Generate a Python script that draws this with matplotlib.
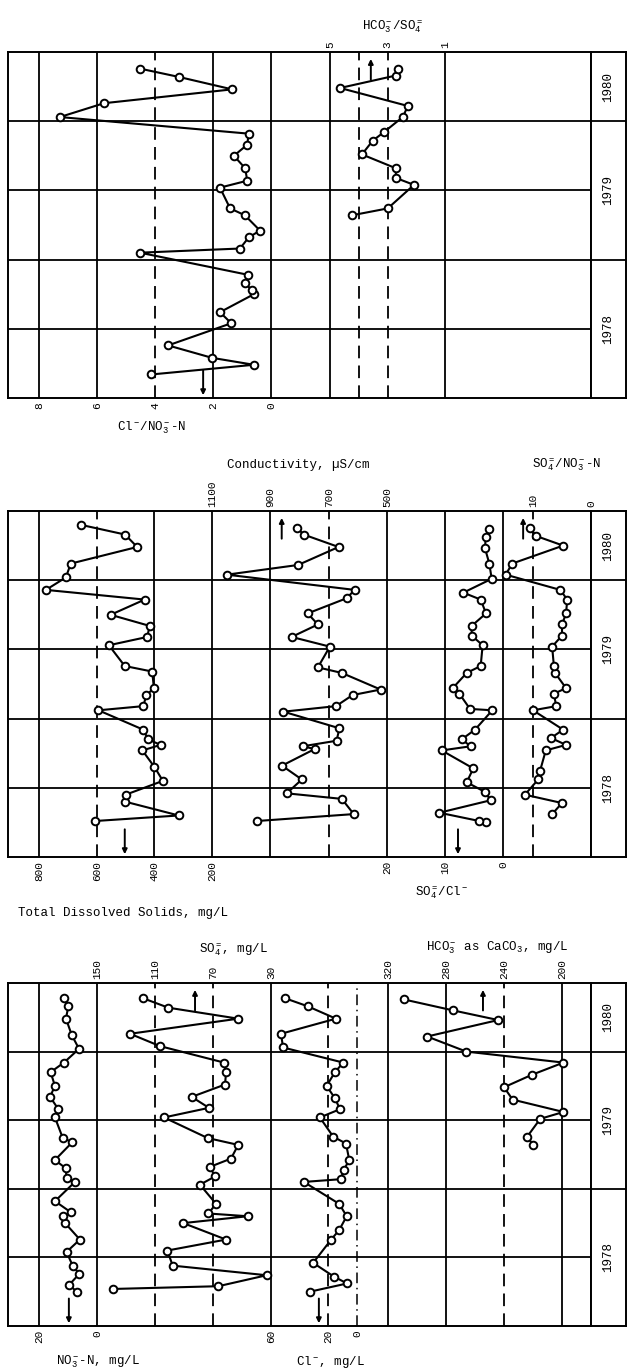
import matplotlib
matplotlib.use('Agg')
import matplotlib.pyplot as plt

plt.rcParams['font.family'] = ['Liberation Mono', 'DejaVu Sans Mono']
plt.rcParams['mathtext.fontset'] = 'custom'
plt.rcParams['mathtext.rm'] = 'Liberation Mono'
plt.rcParams['mathtext.it'] = 'Liberation Mono'
plt.rcParams['mathtext.bf'] = 'Liberation Mono:bold'

# ---------------- data (decimal year, value) ----------------
# panel 1
cl_no3_t = [1978.17, 1978.24, 1978.29, 1978.38, 1978.54, 1978.62, 1978.75, 1978.78, 1978.83,
            1978.89, 1979.05, 1979.08, 1979.16, 1979.21, 1979.32, 1979.37, 1979.52, 1979.57,
            1979.66, 1979.75, 1979.83, 1979.91, 1980.03, 1980.13, 1980.23, 1980.32, 1980.38]
cl_no3 = [4.13, 0.59, 2.03, 3.55, 1.37, 1.76, 0.59, 0.66, 0.90, 0.79, 4.52, 1.07, 0.77, 0.38,
          0.90, 1.41, 1.76, 0.82, 0.89, 1.28, 0.82, 0.77, 7.28, 5.76, 1.34, 3.18, 4.52]

hco3_so4_t = [1979.32, 1979.37, 1979.54, 1979.59, 1979.66, 1979.76, 1979.86, 1979.92,
              1980.03, 1980.11, 1980.24, 1980.33, 1980.38]
hco3_so4 = [4.24, 2.99, 2.08, 2.71, 2.71, 3.89, 3.51, 3.13, 2.47, 2.29, 4.65, 2.71, 2.64]

# panel 2
tds_t = [1978.26, 1978.30, 1978.40, 1978.45, 1978.55, 1978.65, 1978.77, 1978.81, 1978.85,
         1978.92, 1979.06, 1979.09, 1979.17, 1979.22, 1979.34, 1979.38, 1979.53, 1979.59,
         1979.67, 1979.75, 1979.86, 1979.93, 1980.02, 1980.12, 1980.24, 1980.33, 1980.40]
tds = [606, 316, 502, 500, 371, 400, 442, 379, 422, 439, 594, 439, 428, 402, 408, 503, 558,
       425, 417, 552, 434, 776, 707, 690, 460, 502, 655]

cond_t = [1978.26, 1978.31, 1978.42, 1978.46, 1978.56, 1978.66, 1978.78, 1978.80, 1978.84,
          1978.93, 1979.05, 1979.09, 1979.17, 1979.21, 1979.33, 1979.37, 1979.52, 1979.59,
          1979.68, 1979.76, 1979.87, 1979.93, 1980.04, 1980.11, 1980.24, 1980.33, 1980.38]
cond = [946, 614, 655, 844, 792, 860, 748, 789, 673, 663, 855, 675, 618, 522, 655, 737, 696,
        827, 737, 772, 638, 611, 1049, 805, 666, 786, 809]

so4_cl_t = [1978.25, 1978.26, 1978.32, 1978.41, 1978.47, 1978.54, 1978.64, 1978.77, 1978.80,
            1978.85, 1978.92, 1979.06, 1979.07, 1979.18, 1979.22, 1979.33, 1979.38, 1979.53,
            1979.60, 1979.67, 1979.76, 1979.86, 1979.91, 1980.01, 1980.12, 1980.23, 1980.31,
            1980.37]
so4_cl = [2.93, 4.08, 10.98, 2.12, 3.10, 6.26, 5.12, 10.57, 5.57, 7.12, 4.83, 1.84, 5.69,
          7.53, 8.67, 6.26, 3.85, 3.51, 5.40, 5.40, 2.93, 3.85, 6.84, 1.95, 2.36, 3.10, 2.99,
          2.36]

so4_no3_t = [1978.31, 1978.39, 1978.45, 1978.56, 1978.62, 1978.77, 1978.81, 1978.86, 1978.92,
             1979.06, 1979.09, 1979.18, 1979.22, 1979.33, 1979.38, 1979.52, 1979.60, 1979.68,
             1979.76, 1979.86, 1979.93, 1980.04, 1980.12, 1980.25, 1980.32, 1980.38]
so4_no3 = [6.7, 5.0, 11.4, 9.1, 8.8, 7.8, 4.3, 6.9, 4.8, 10.0, 6.0, 6.4, 4.3, 6.2, 6.4, 6.7,
           5.0, 5.0, 4.3, 4.1, 5.3, 14.7, 13.6, 4.8, 9.5, 10.5]

# panel 3
no3_t = [1978.25, 1978.30, 1978.38, 1978.44, 1978.54, 1978.63, 1978.75, 1978.80, 1978.83,
         1978.91, 1979.05, 1979.08, 1979.15, 1979.21, 1979.34, 1979.37, 1979.52, 1979.58,
         1979.67, 1979.75, 1979.85, 1979.92, 1980.02, 1980.12, 1980.24, 1980.33, 1980.39]
no3 = [7.0, 9.6, 6.1, 8.4, 10.5, 5.9, 11.0, 11.6, 9.1, 14.5, 7.6, 10.5, 10.8, 14.5, 8.5, 11.8,
       14.5, 13.3, 16.2, 14.5, 16.0, 11.4, 6.2, 8.7, 10.7, 9.9, 11.4]

so4_t = [1978.27, 1978.29, 1978.37, 1978.44, 1978.55, 1978.63, 1978.75, 1978.80, 1978.82,
         1978.89, 1979.03, 1979.09, 1979.16, 1979.22, 1979.32, 1979.37, 1979.52, 1979.59,
         1979.67, 1979.76, 1979.85, 1979.92, 1980.04, 1980.13, 1980.24, 1980.32, 1980.39]
so4 = [138.8, 66.3, 33.0, 97.8, 101.5, 61.0, 90.5, 46.1, 73.2, 67.9, 79.0, 68.6, 72.1, 57.6,
       52.6, 73.7, 103.8, 72.8, 84.7, 61.7, 61.0, 62.4, 106.6, 127.2, 52.6, 100.8, 118.5]

cl_t = [1978.25, 1978.31, 1978.36, 1978.46, 1978.63, 1978.70, 1978.80, 1978.89, 1979.05,
        1979.07, 1979.14, 1979.21, 1979.33, 1979.38, 1979.52, 1979.58, 1979.66, 1979.75,
        1979.85, 1979.92, 1980.03, 1980.13, 1980.24, 1980.33, 1980.39]
cl = [32.9, 6.9, 16.1, 30.6, 18.0, 12.4, 7.2, 12.4, 37.1, 11.4, 9.1, 5.4, 7.7, 16.6, 25.9,
      11.9, 15.4, 21.2, 15.4, 9.6, 51.6, 53.0, 14.7, 34.3, 50.5]

hco3_t = [1979.32, 1979.38, 1979.51, 1979.56, 1979.65, 1979.74, 1979.83, 1979.92, 1980.00,
          1980.11, 1980.23, 1980.30, 1980.38]
hco3 = [220, 224, 215, 199, 234, 240, 221, 199, 266, 293, 244, 275, 309]

years = [1978, 1979, 1980]

# ---------------- layout (pixels) ----------------
W, H = 627, 1370
L, R, YR = 8, 591, 626
T0, T1 = 1978.0, 1980.5
DASH = (0, (7, 4))
DASHDOT = (0, (7, 3, 1, 3))

fig = plt.figure(figsize=(W / 100, H / 100), dpi=100)


def px_axes(left, top, right, bottom):
    return fig.add_axes([left / W, 1 - bottom / H, (right - left) / W, (bottom - top) / H])


def panel(top, bottom):
    ax = px_axes(L, top, R, bottom)
    ax.set_xlim(0, 1)
    ax.set_ylim(T0, T1)
    ax.set_xticks([])
    ax.set_yticks([])
    for s in ax.spines.values():
        s.set_linewidth(1.4)
    for t in [1978.5, 1979.0, 1979.5, 1980.0]:
        ax.axhline(t, color='k', lw=1.3)

    yc = px_axes(R, top, YR, bottom)
    yc.set_xlim(0, 1)
    yc.set_ylim(T0, T1)
    yc.set_xticks([])
    yc.set_yticks([])
    for s in yc.spines.values():
        s.set_linewidth(1.4)
    for y in years[1:]:
        yc.axhline(y, color='k', lw=1.3)
    for y in years:
        mid = (y + min(y + 1, T1)) / 2
        yc.text(0.5, mid, str(y), rotation=90, ha='center', va='center', fontsize=9)
    return ax


def scale(ax, v0, p0, v1, p1, ticks, side, solid=(), dashed=(), dashdot=()):
    # value v0 sits at pixel p0, v1 at pixel p1
    k = (v1 - v0) / (p1 - p0)
    tw = ax.twiny()
    tw.set_xlim(v0 + (L - p0) * k, v0 + (R - p0) * k)
    for s in tw.spines.values():
        s.set_visible(False)
    tw.set_xticks(ticks)
    tw.set_xticklabels([str(t) for t in ticks])
    tw.xaxis.set_ticks_position(side)
    tw.tick_params(axis='x', length=0, pad=3, labelsize=8, labelrotation=90)
    for v in solid:
        tw.axvline(v, color='k', lw=1.3)
    for v in dashed:
        tw.axvline(v, color='k', lw=1.3, ls=DASH)
    for v in dashdot:
        tw.axvline(v, color='k', lw=1.1, ls=DASHDOT)
    return tw


def series(tw, t, v, arrow, up):
    tw.plot(v, t, color='k', lw=1.5, marker='o', ms=5.5, mfc='white', mec='k', mew=1.4,
            zorder=5)
    tail, head = (1980.30, 1980.45) if up else (1978.20, 1978.02)
    tw.annotate('', xy=(arrow, head), xytext=(arrow, tail),
                arrowprops=dict(arrowstyle='-|>', color='k', lw=1.4, mutation_scale=7,
                                shrinkA=0, shrinkB=0))


def label(x, y, s, size=9):
    fig.text(x / W, 1 - y / H, s, ha='center', va='center', fontsize=size)


# ---- panel 1: ratios ----
ax1 = panel(52, 398)
a = scale(ax1, 0, 271, 8, 39, [8, 6, 4, 2, 0], 'bottom',
          solid=[8, 6, 2, 0], dashed=[4])
series(a, cl_no3_t, cl_no3, 2.34, False)
b = scale(ax1, 5, 330, 1, 445, [5, 3, 1], 'top', solid=[5, 1], dashed=[4, 3])
series(b, hco3_so4_t, hco3_so4, 3.58, True)
label(152, 428, 'Cl$^-$/NO$_3^-$-N')
label(392, 27, 'HCO$_3^-$/SO$_4^=$')

# ---- panel 2: TDS, conductivity, ratios ----
ax2 = panel(511, 857)
a = scale(ax2, 0, 270, 800, 39, [800, 600, 400, 200], 'bottom',
          solid=[800, 400, 200, 0], dashed=[600])
series(a, tds_t, tds, 503, False)
b = scale(ax2, 1100, 212, 500, 387, [1100, 900, 700, 500], 'top',
          solid=[500], dashed=[700])
series(b, cond_t, cond, 861, True)
c = scale(ax2, 0, 503, 20, 387, [20, 10, 0], 'bottom', solid=[10, 0])
series(c, so4_cl_t, so4_cl, 7.76, False)
d = scale(ax2, 0, 591, 10, 533, [10, 0], 'top', dashed=[10])
series(d, so4_no3_t, so4_no3, 11.7, True)
label(298, 465, 'Conductivity, µS/cm')
label(567, 465, 'SO$_4^=$/NO$_3^-$-N')
label(442, 893, 'SO$_4^=$/Cl$^-$')
label(123, 913, 'Total Dissolved Solids, mg/L')

# ---- panel 3: concentrations ----
ax3 = panel(983, 1326)
a = scale(ax3, 0, 97, 20, 39, [20, 0], 'bottom', solid=[20, 0])
series(a, no3_t, no3, 9.7, False)
b = scale(ax3, 150, 97, 30, 271, [150, 110, 70, 30], 'top',
          solid=[30], dashed=[110, 70])
series(b, so4_t, so4, 82.4, True)
c = scale(ax3, 0, 357, 60, 271, [60, 20, 0], 'bottom', dashed=[20], dashdot=[0])
series(c, cl_t, cl, 26.6, False)
d = scale(ax3, 320, 388, 200, 562, [320, 280, 240, 200], 'top',
          solid=[320, 280, 200], dashed=[240])
series(d, hco3_t, hco3, 254.5, True)
label(234, 950, 'SO$_4^=$, mg/L')
label(497, 948, 'HCO$_3^-$ as CaCO$_3$, mg/L')
label(98, 1362, 'NO$_3^-$-N, mg/L')
label(331, 1362, 'Cl$^-$, mg/L')

fig.savefig('out.png', dpi=100)
